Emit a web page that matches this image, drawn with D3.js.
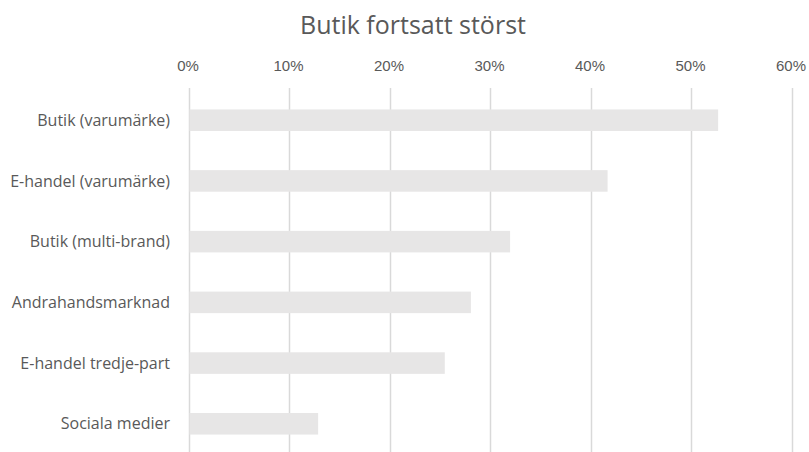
<!DOCTYPE html>
<html>
<head>
<meta charset="utf-8">
<script src="https://cdn.jsdelivr.net/npm/d3@7"></script>
<style>
  html, body { margin: 0; padding: 0; background: #fff; }
  svg { display: block; font-family: "Open Sans", sans-serif; }
</style>
</head>
<body>
<svg id="chart" width="809" height="452"></svg>
<script>
// Kanaler och andel (%)
const categories = [
  "Butik (varumärke)",
  "E-handel (varumärke)",
  "Butik (multi-brand)",
  "Andrahandsmarknad",
  "E-handel tredje-part",
  "Sociala medier"
];
const values = [52.7, 41.7, 32.0, 28.1, 25.5, 12.9];
const tickValues = [0, 10, 20, 30, 40, 50, 60];
const title = "Butik fortsatt störst";

const svg = d3.select("#chart");
const margin = { top: 90, left: 188.5, right: 17.5, bottom: -2 };
const W = 809, H = 452;

const x = d3.scaleLinear().domain([0, 60]).range([margin.left, W - margin.right]);
const y = d3.scaleBand().domain(categories)
  .range([margin.top, H - margin.bottom])
  .paddingInner(0.645).paddingOuter(0.32);

// Titel
svg.append("text")
  .attr("x", 413).attr("y", 33.5)
  .attr("text-anchor", "middle")
  .attr("fill", "#595959")
  .attr("font-size", 25)
  .text(title);

// Stödlinjer
svg.append("g")
  .selectAll("line")
  .data(tickValues)
  .join("line")
  .attr("x1", d => Math.round(x(d)) + 0.5)
  .attr("x2", d => Math.round(x(d)) + 0.5)
  .attr("y1", 88).attr("y2", H)
  .attr("stroke", "#d9d9d9")
  .attr("stroke-width", 1.5);

// Axel överst
const axis = d3.axisTop(x).tickValues(tickValues).tickFormat(d => d + "%").tickSize(0).tickPadding(0);
const gAxis = svg.append("g").attr("transform", "translate(-1,71)").call(axis);
gAxis.select(".domain").remove();
gAxis.selectAll("text")
  .attr("fill", "#595959")
  .attr("font-size", 15)
  .attr("font-family", "inherit");

// Staplar
svg.append("g")
  .selectAll("rect")
  .data(values)
  .join("rect")
  .attr("x", x(0) + 1)
  .attr("y", (d, i) => y(categories[i]))
  .attr("width", d => x(d) - x(0) - 1)
  .attr("height", y.bandwidth())
  .attr("fill", "#e7e6e6");

// Kategorietiketter
svg.append("g")
  .selectAll("text")
  .data(categories)
  .join("text")
  .attr("x", 170)
  .attr("y", d => y(d) + y.bandwidth() / 2)
  .attr("dy", "0.35em")
  .attr("text-anchor", "end")
  .attr("fill", "#595959")
  .attr("font-size", 16)
  .text(d => d);
</script>
</body>
</html>
